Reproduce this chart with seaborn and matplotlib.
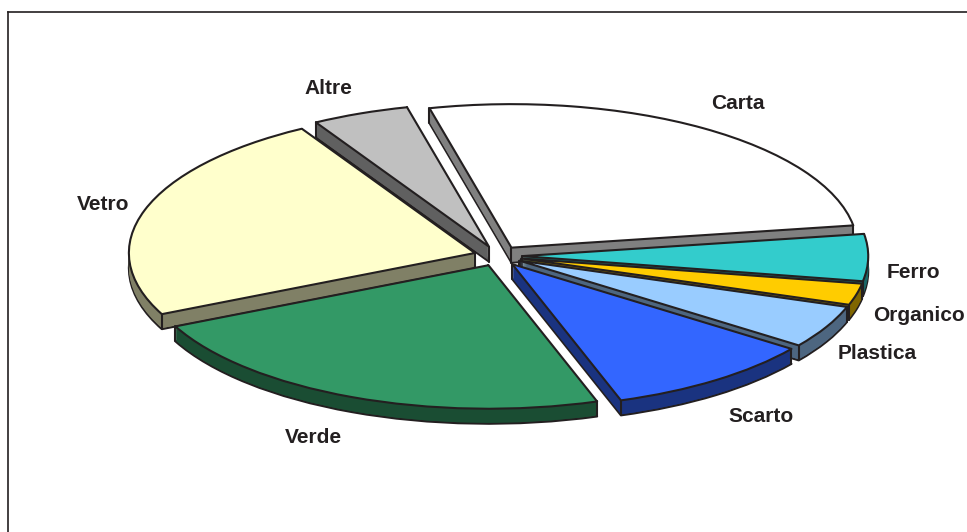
import numpy as np
import matplotlib
matplotlib.use('Agg')
import matplotlib.pyplot as plt
from matplotlib.transforms import Affine2D
import seaborn as sns

#-slices, clockwise from the top, same order as the reference
categories = ['Carta', 'Ferro', 'Organico', 'Plastica', 'Scarto', 'Verde', 'Vetro', 'Altre']
shares = [26.33, 5.28, 2.42, 4.83, 9.86, 23.08, 23.67, 4.53]
top_colors = ['#FFFFFF', '#33CCCC', '#FFCC00', '#99CCFF', '#3366FF', '#339966', '#FFFFCC', '#C0C0C0']

#-layout, everything in image pixels
label_pos = {'Carta': (738, 103.5), 'Ferro': (913, 272.5), 'Organico': (919, 315.5), 'Plastica': (877, 353.5),
             'Scarto': (761, 416.5), 'Verde': (313, 437.5), 'Vetro': (103, 204.5), 'Altre': (328, 88.5)}
paint_order = ['Carta', 'Altre', 'Vetro', 'Ferro', 'Organico', 'Plastica', 'Scarto', 'Verde']
cx, cy = 498, 256
rx, ry = 346, 143.5
depth = 15
ink = '#231F20'
W, H = 967, 532
left, top = 8, 12

sns.set_theme(style = 'white')
plt.rcParams['font.family'] = ['Liberation Sans', 'DejaVu Sans']

wall_colors = [tuple(c * 0.5 for c in col) for col in sns.color_palette(top_colors)]

fig = plt.figure(figsize = (W / 100, H / 100), dpi = 100)
ax = fig.add_axes([left / W, 0, 1 - left / W, 1 - top / H])

def layer(d, colors, edge, lw):
    wedges, _ = ax.pie(shares, colors = colors, startangle = 103.7, counterclock = False,
                       explode = [0.07] * len(shares), radius = 1, frame = True,
                       wedgeprops = {'edgecolor': edge, 'linewidth': lw, 'joinstyle': 'round'})
    tf = Affine2D().scale(rx, -ry).translate(cx, cy + d) + ax.transData
    for w in wedges:
        w.set_transform(tf)
    return wedges

#-extrude the wall: bottom outline, then filler layers, then corner lines and the top face
bottom = layer(depth, wall_colors, ink, 1.5)
fillers = [layer(d, wall_colors, 'none', 0) for d in range(depth - 1, 0, -1)]
tops = layer(0, top_colors, ink, 1.5)

for name, w in zip(categories, bottom):
    w.set_zorder(10 + 10 * paint_order.index(name))
for group in fillers:
    for i, w in enumerate(group):
        w.set_facecolor(wall_colors[i])
        w.set_zorder(11 + 10 * paint_order.index(categories[i]))
for i, w in enumerate(tops):
    z = 10 + 10 * paint_order.index(categories[i])
    w.set_zorder(z + 3)
    #-vertical edges of the wall
    x0, y0 = w.center
    corners = [(x0, y0)]
    for t in (w.theta1, w.theta2):
        corners.append((x0 + np.cos(np.radians(t)), y0 + np.sin(np.radians(t))))
    for px, py in corners:
        sx, sy = cx + rx * px, cy - ry * py
        ax.plot([sx, sx], [sy, sy + depth], color = ink, lw = 1.5, zorder = z + 2,
                solid_capstyle = 'round')

for name in categories:
    x, y = label_pos[name]
    ax.text(x, y, name, ha = 'center', va = 'center', fontsize = 15, fontweight = 'bold',
            color = ink, zorder = 200)

ax.set_aspect('auto')
ax.set_xlim(left, W)
ax.set_ylim(H, top)
ax.set_xticks([])
ax.set_yticks([])
for side in ('right', 'bottom'):
    ax.spines[side].set_visible(False)
for side in ('left', 'top'):
    ax.spines[side].set_visible(True)
    ax.spines[side].set_color(ink)
    ax.spines[side].set_linewidth(1.2)

fig.savefig('out.png', dpi = 100)
